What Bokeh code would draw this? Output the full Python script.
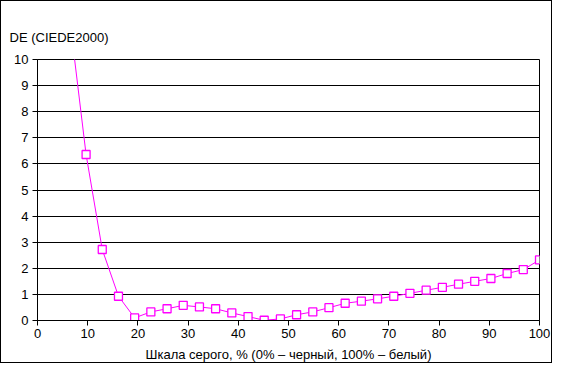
from bokeh.plotting import figure
from bokeh.models import Range1d, FixedTicker
from bokeh.embed import file_html
from bokeh.resources import INLINE

# Gray scale positions (%), i*100/31
gray = [6.45, 9.68, 12.90, 16.13, 19.35, 22.58, 25.81, 29.03, 32.26, 35.48,
        38.71, 41.94, 45.16, 48.39, 51.61, 54.84, 58.06, 61.29, 64.52, 67.74,
        70.97, 74.19, 77.42, 80.65, 83.87, 87.10, 90.32, 93.55, 96.77, 100.0]
de = [11.5, 6.36, 2.72, 0.93, 0.10, 0.33, 0.45, 0.58, 0.52, 0.45,
      0.29, 0.15, 0.01, 0.06, 0.22, 0.33, 0.49, 0.66, 0.74, 0.83,
      0.93, 1.04, 1.16, 1.27, 1.39, 1.50, 1.61, 1.80, 1.95, 2.32]
x_ticks = [0, 10, 20, 30, 40, 50, 60, 70, 80, 90, 100]
y_ticks = [0, 1, 2, 3, 4, 5, 6, 7, 8, 9, 10]

FONT = "Liberation Sans"
MAG = "#FF00FF"

p = figure(width=552, height=363, output_backend="svg", toolbar_location=None,
           x_range=Range1d(0, 100), y_range=Range1d(0, 10),
           min_border_left=36, min_border_right=14, min_border_top=58, min_border_bottom=43,
           title="DE (CIEDE2000)")

p.styles = {"border": "1px solid #000000", "box-sizing": "border-box"}

p.title.text_font = FONT
p.title.text_font_size = "13px"
p.title.text_font_style = "normal"
p.title.text_color = "black"
p.title.align = "left"
p.title.offset = -28
p.title.standoff = 30

p.outline_line_color = "black"
p.outline_line_width = 1
p.outline_line_alpha = 1

p.xgrid.grid_line_color = None
p.ygrid.grid_line_color = "black"
p.ygrid.grid_line_width = 1

p.xaxis.ticker = FixedTicker(ticks=x_ticks)
p.yaxis.ticker = FixedTicker(ticks=y_ticks)
for ax in (p.xaxis, p.yaxis):
    ax.axis_line_color = "black"
    ax.major_tick_line_color = "black"
    ax.major_tick_out = 5
    ax.major_tick_in = 0
    ax.minor_tick_line_color = None
    ax.major_label_text_font = FONT
    ax.major_label_text_font_size = "13px"
    ax.major_label_text_color = "black"
p.xaxis.major_label_standoff = 3
p.yaxis.major_label_standoff = 4

p.xaxis.axis_label = "Шкала серого, % (0% – черный, 100% – белый)"
p.xaxis.axis_label_text_font = FONT
p.xaxis.axis_label_text_font_size = "13px"
p.xaxis.axis_label_text_font_style = "normal"
p.xaxis.axis_label_text_color = "black"
p.xaxis.axis_label_standoff = 6

p.line(gray, de, line_color=MAG, line_width=1)
p.scatter(gray, de, marker="square", size=8, line_color=MAG, line_width=1.3,
          fill_color="white")

open("out.html", "w").write(file_html(p, INLINE))
